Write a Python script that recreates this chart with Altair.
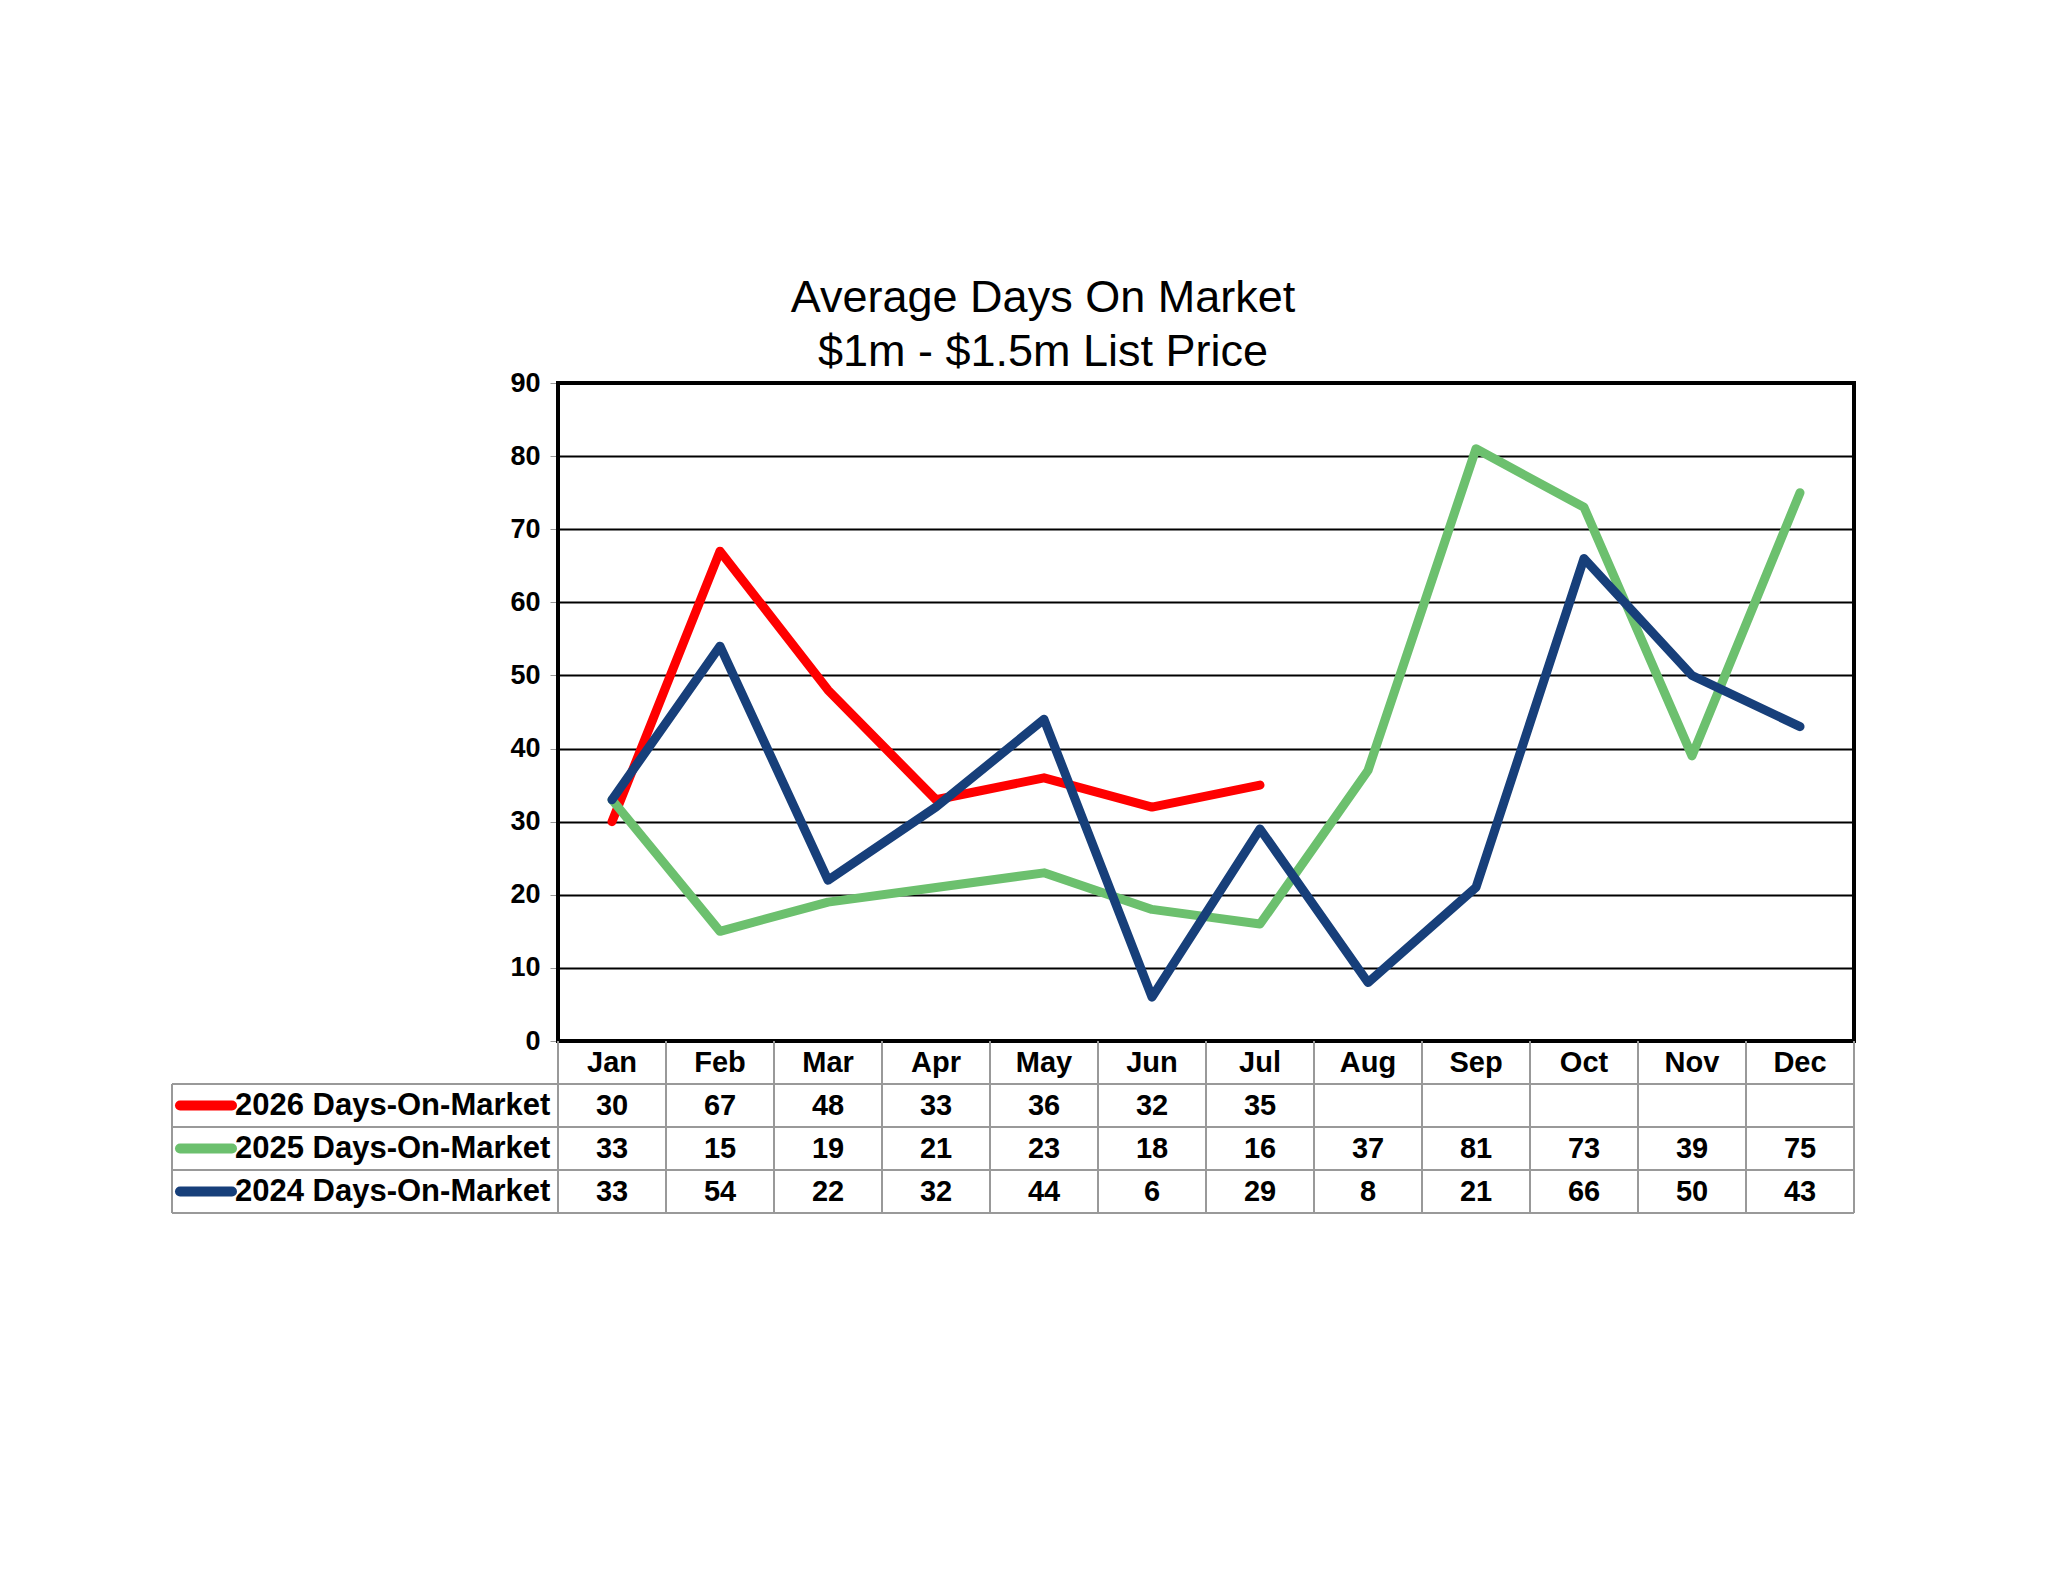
import altair as alt
import pandas as pd

MONTHS = ["Jan", "Feb", "Mar", "Apr", "May", "Jun", "Jul", "Aug", "Sep", "Oct", "Nov", "Dec"]
DOM_2026 = [30, 67, 48, 33, 36, 32, 35]
DOM_2025 = [33, 15, 19, 21, 23, 18, 16, 37, 81, 73, 39, 75]
DOM_2024 = [33, 54, 22, 32, 44, 6, 29, 8, 21, 66, 50, 43]
SERIES = ["2026 Days-On-Market", "2025 Days-On-Market", "2024 Days-On-Market"]
COLORS = ["#ff0000", "#6cc06e", "#173f7a"]

W, H = 1296, 658
LW = 386  # width of the label column left of the plot
FONT = "Liberation Sans"
GRID = "#999999"

rows = []
for k, (name, vals) in enumerate(zip(SERIES, [DOM_2026, DOM_2025, DOM_2024])):
    for i, v in enumerate(vals):
        rows.append({"series": name, "x": i + 0.5, "month": MONTHS[i], "value": v, "row": k + 1.5})
df = pd.DataFrame(rows)

xs = alt.Scale(domain=[0, 12], nice=False, zero=False)
color = alt.Color("series:N", scale=alt.Scale(domain=SERIES, range=COLORS), legend=None)

lines = alt.Chart(df).mark_line(strokeWidth=9, strokeCap="round", strokeJoin="round").encode(
    x=alt.X("x:Q", scale=xs, axis=None),
    y=alt.Y("value:Q", scale=alt.Scale(domain=[0, 90], nice=False),
            axis=alt.Axis(values=list(range(0, 91, 10)), title=None, labelFont=FONT,
                          labelFontSize=27, labelFontWeight="bold", labelColor="black",
                          gridColor="black", gridWidth=2, domain=False, tickColor=GRID,
                          tickSize=8, labelPadding=10)),
    color=color,
    detail="series:N",
)
frame = alt.Chart(pd.DataFrame({"a": [0]})).mark_rect(
    fill=None, stroke="black", strokeWidth=4).encode(
    x=alt.value(0), x2=alt.value(W), y=alt.value(0), y2=alt.value(H))
top = alt.layer(lines, frame).properties(width=W, height=H, title=alt.TitleParams(
    ["Average Days On Market", "$1m - $1.5m List Price"], font=FONT, fontSize=45,
    fontWeight="normal", color="black", anchor="middle", offset=-6, lineHeight=54, dx=-163))

# ---------------------------------------------------------------- data table
ys = alt.Scale(domain=[0, 4], reverse=True, nice=False, zero=False)
hdr = pd.DataFrame({"x": [i + 0.5 for i in range(12)], "month": MONTHS, "row": 0.5})
vlines = pd.DataFrame({"x": list(range(13)), "y0": 0, "y1": 4})
hlines = pd.DataFrame({"y": [1, 2, 3, 4]})
labels = pd.DataFrame({"series": SERIES, "row": [1.5, 2.5, 3.5]})

txt_style = dict(font=FONT, fontSize=29, fontWeight="bold", color="black", baseline="middle")
header = alt.Chart(hdr).mark_text(**txt_style).encode(
    x=alt.X("x:Q", scale=xs, axis=None), y=alt.Y("row:Q", scale=ys, axis=None), text="month:N")
cells = alt.Chart(df).mark_text(**txt_style).encode(
    x=alt.X("x:Q", scale=xs, axis=None), y=alt.Y("row:Q", scale=ys, axis=None), text="value:Q")
vr = alt.Chart(vlines).mark_rule(color=GRID, strokeWidth=2).encode(
    x=alt.X("x:Q", scale=xs, axis=None), y=alt.Y("y0:Q", scale=ys, axis=None), y2="y1:Q")
hr = alt.Chart(hlines).mark_rule(color=GRID, strokeWidth=2).encode(
    x=alt.value(-LW), x2=alt.value(W), y=alt.Y("y:Q", scale=ys, axis=None))
left = alt.Chart(pd.DataFrame({"a": [1], "b": [4]})).mark_rule(color=GRID, strokeWidth=2).encode(
    x=alt.value(-LW), y=alt.Y("a:Q", scale=ys, axis=None), y2="b:Q")
swatch = alt.Chart(labels).mark_rule(strokeWidth=10, strokeCap="round").encode(
    x=alt.value(-LW + 8), x2=alt.value(-LW + 60), y=alt.Y("row:Q", scale=ys, axis=None), color=color)
lab = alt.Chart(labels).mark_text(align="left", **dict(txt_style, fontSize=31)).encode(
    x=alt.value(-LW + 63), y=alt.Y("row:Q", scale=ys, axis=None), text="series:N")

table = alt.layer(vr, hr, left, swatch, lab, header, cells).properties(width=W, height=172)

chart = alt.vconcat(top, table, spacing=0, bounds="flush").configure_view(stroke=None).properties(
    padding={"left": 163, "top": 268, "right": 20, "bottom": 40})

chart.save("out.html", embed_options={"renderer": "svg", "actions": False})
